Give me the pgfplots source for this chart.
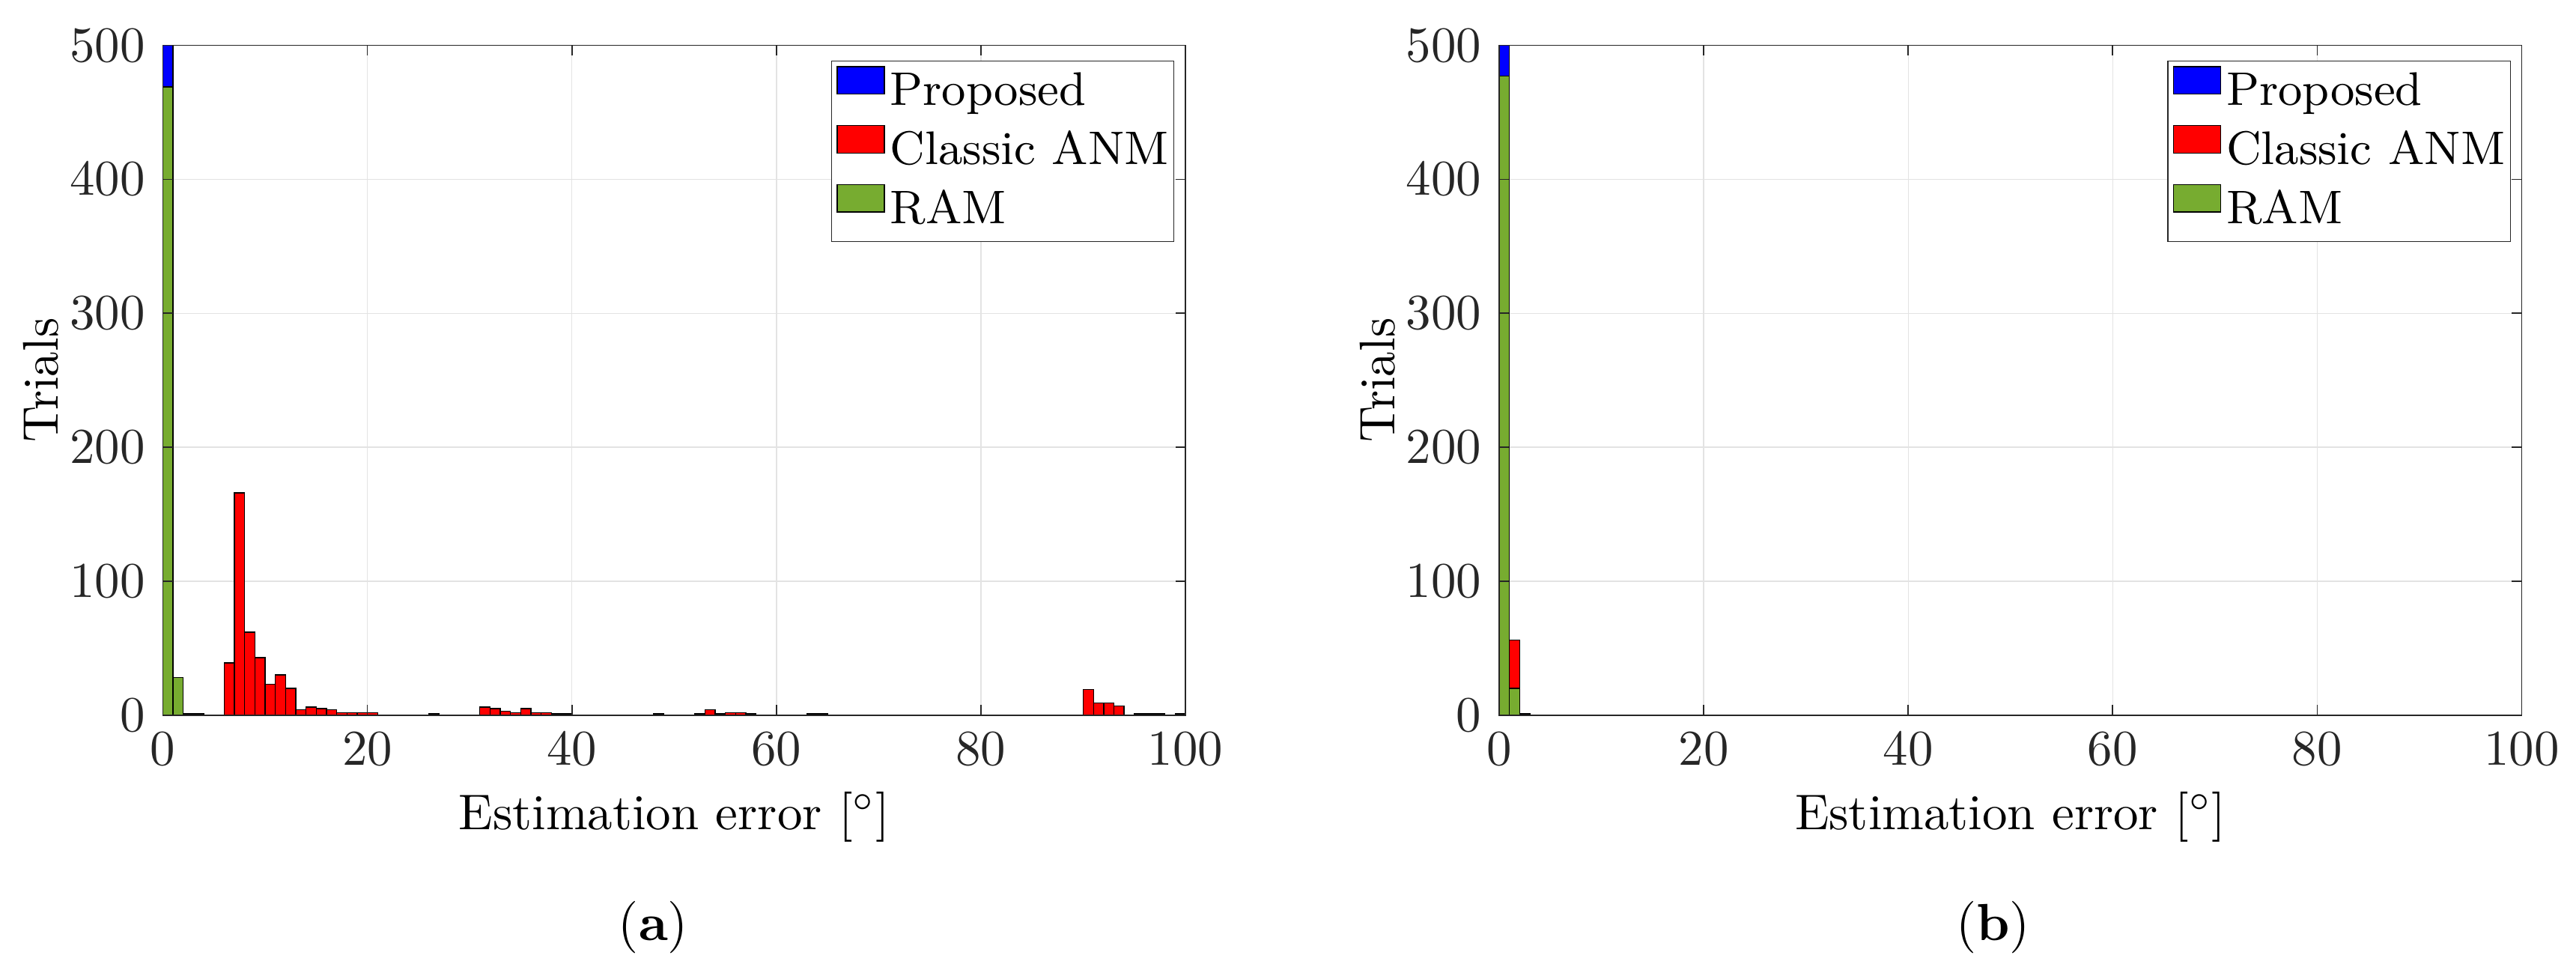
\documentclass[border=0pt]{standalone}
\usepackage{pgfplots}
\pgfplotsset{compat=1.18}
\definecolor{ramgreen}{rgb}{0.466,0.674,0.188}
\definecolor{axgray}{rgb}{0.15,0.15,0.15}
\pgfplotsset{
  layers/mylayers/.define layer set={
    axis background,axis grid,pre main,main,axis ticks,axis lines,axis tick labels,axis descriptions,axis foreground
  }{
    grid style={/pgfplots/on layer=axis grid},
    tick style={/pgfplots/on layer=axis ticks},
    axis line style={/pgfplots/on layer=axis lines},
    label style={/pgfplots/on layer=axis descriptions},
    legend style={/pgfplots/on layer=axis descriptions},
    title style={/pgfplots/on layer=axis descriptions},
    ticklabel style={/pgfplots/on layer=axis tick labels},
    axis background@ style={/pgfplots/on layer=axis background},
    3d box foreground style={/pgfplots/on layer=axis foreground},
  },
  hbar/.style={ybar, bar width=1, bar shift=0pt, draw=black, line width=0.2pt, fill=#1,
    legend image code/.code={\draw[fill=#1, draw=black, line width=0.25pt] (0pt,-0.25pt) rectangle (9.4pt,5.25pt);}},
  myaxis/.style={
    set layers=mylayers,
    scale only axis, width=204.1pt, height=133.65pt, anchor=south west,
    xmin=0, xmax=100, ymin=0, ymax=500,
    xtick={0,20,...,100}, ytick={0,100,...,500},
    tick align=inside, major tick length=2pt,
    axis line style={axgray, line width=0.25pt},
    tick style={axgray, line width=0.25pt},
    xmajorgrids, ymajorgrids,
    grid style={gray!22, line width=0.2pt},
    tick label style={font=\fontsize{10}{12}\selectfont, color=axgray},
    xlabel={Estimation error [$^\circ$]}, ylabel={Trials},
    label style={font=\fontsize{10}{12}\selectfont, color=axgray},
    every axis x label/.style={at={(axis description cs:0.5,0)}, anchor=base, yshift=-22.75pt},
    every axis y label/.style={at={(axis description cs:0,0.5)}, xshift=-20.9pt, rotate=90, anchor=base},
    legend cell align=left,
    legend style={at={(rel axis cs:1,1)}, anchor=north east, xshift=-2.2pt, yshift=-3pt,
      draw=axgray, line width=0.2pt, fill=white,
      font=\fontsize{9.4}{11}\selectfont,
      inner xsep=1pt, inner ysep=1pt, row sep=1.3pt, column sep=1pt,
      nodes={inner sep=0pt, text height=7.6pt, text depth=2.6pt}},
  }
}
\begin{document}
\begin{tikzpicture}
\path (0,0) rectangle (512.56pt,193.1pt);
\begin{axis}[myaxis, at={(32.5pt,50.4pt)}]
\addplot[hbar=blue] coordinates {(0.5,500)};
\addplot[hbar=red] coordinates {
(6.5,39) (7.5,166) (8.5,62) (9.5,43) (10.5,23) (11.5,30) (12.5,20) (13.5,4) (14.5,6) (15.5,5)
(16.5,4) (17.5,2) (18.5,2) (19.5,2) (20.5,2) (26.5,1)
(31.5,6) (32.5,5) (33.5,3) (34.5,2) (35.5,5) (36.5,2) (37.5,2) (38.5,1) (39.5,1)
(48.5,1) (52.5,1) (53.5,4) (54.5,1) (55.5,2) (56.5,2) (57.5,1) (63.5,1) (64.5,1)
(90.5,19) (91.5,9) (92.5,9) (93.5,7) (95.5,1) (96.5,1) (97.5,1) (99.5,1)};
\addplot[hbar=ramgreen] coordinates {(0.5,469) (1.5,28) (2.5,1) (3.5,1)};
\legend{Proposed,Classic ANM,RAM}
\end{axis}
\begin{axis}[myaxis, at={(299.2pt,50.4pt)}]
\addplot[hbar=blue] coordinates {(0.5,500)};
\addplot[hbar=red] coordinates {(1.5,56)};
\addplot[hbar=ramgreen] coordinates {(0.5,477) (1.5,20) (2.5,1)};
\legend{Proposed,Classic ANM,RAM}
\end{axis}
\node[anchor=base, font=\fontsize{10.4}{12}\selectfont] at (130.4pt,5.5pt) {(\textbf{a})};
\node[anchor=base, font=\fontsize{10.4}{12}\selectfont] at (397.8pt,5.5pt) {(\textbf{b})};
\end{tikzpicture}
\end{document}
